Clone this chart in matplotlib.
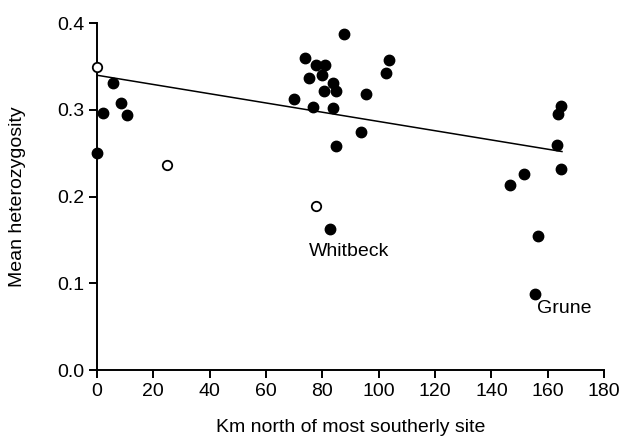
"""Mean heterozygosity vs distance north of the most southerly site."""

import numpy as np
import matplotlib
matplotlib.use("Agg")
import matplotlib.pyplot as plt

plt.rcParams["font.family"] = ["Liberation Sans", "DejaVu Sans"]

# filled sites
km_filled = [0, 2.1, 5.7, 8.5, 10.6,
             87.7, 73.7, 77.6, 80.8, 75.1, 79.7, 83.8, 80.7, 84.8, 69.8,
             76.7, 83.8, 95.6, 103.7, 102.6, 93.7, 84.8, 82.7,
             164.7, 163.5, 163.4, 164.7, 151.6, 146.6, 156.5, 155.6]
het_filled = [0.250, 0.296, 0.331, 0.308, 0.294,
              0.387, 0.360, 0.352, 0.352, 0.337, 0.340, 0.331, 0.322, 0.322, 0.312,
              0.303, 0.302, 0.318, 0.357, 0.343, 0.274, 0.258, 0.163,
              0.304, 0.295, 0.260, 0.232, 0.226, 0.214, 0.155, 0.088]

# open sites
km_open = [0, 24.8, 77.7]
het_open = [0.350, 0.237, 0.189]

# regression line end points
fit_x = [0, 165]
fit_y = [0.340, 0.252]

FS = 14

fig = plt.figure(figsize=(6.21, 4.37), dpi=100)
ax = fig.add_axes([0.156, 0.153, 0.817, 0.794])

ax.plot(fit_x, fit_y, color="black", lw=1.1)
ax.plot(km_filled, het_filled, "o", color="black", ms=7.5, clip_on=False, zorder=3)
ax.plot(km_open, het_open, "o", mfc="white", mec="black", mew=1.3, ms=6.8,
        clip_on=False, zorder=3)

ax.text(89.6, 0.137, "Whitbeck", ha="center", va="center", fontsize=FS)
ax.text(156.2, 0.0707, "Grune", ha="left", va="center", fontsize=FS)

ax.set_xlim(0, 180)
ax.set_ylim(0, 0.4)
ax.set_xticks(np.arange(0, 181, 20))
ax.set_yticks(np.arange(0, 0.41, 0.1))
ax.yaxis.set_major_formatter(matplotlib.ticker.FormatStrFormatter("%.1f"))
for s in ("top", "right"):
    ax.spines[s].set_visible(False)
for s in ("left", "bottom"):
    ax.spines[s].set_linewidth(1.4)
ax.tick_params(direction="out", length=6, width=1.4, labelsize=FS, pad=3)
ax.set_xlabel("Km north of most southerly site", fontsize=FS)
ax.set_ylabel("Mean heterozygosity", fontsize=FS, va="center")
# place axis labels where the reference has them (pixel centres 427 / 18)
ax.xaxis.set_label_coords(0.5, (370 - 427) / 347, transform=ax.transAxes)
ax.xaxis.label.set_va("center")
ax.yaxis.set_label_coords((18 - 97) / 507, 0.5)

fig.savefig("out.png", dpi=100)
